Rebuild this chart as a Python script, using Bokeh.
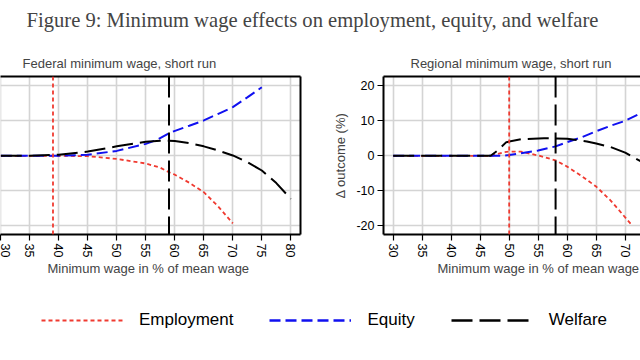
import math
from bokeh.plotting import figure
from bokeh.models import Span, Title, LinearAxis, FixedTicker, Legend, LegendItem, Range1d
from bokeh.layouts import column, row
from bokeh.embed import file_html
from bokeh.resources import INLINE

# ---------------- data ----------------
x_ticks = [30, 35, 40, 45, 50, 55, 60, 65, 70, 75, 80]
y_ticks = [-20, -10, 0, 10, 20]
y_tick_labels = ["-20", "-10", "0", "10", "20"]

# Federal minimum wage, short run
fed_emp_x = [30, 35, 40, 45, 50, 55, 57.5, 59, 60, 62.5, 65, 67.5, 70]
fed_emp_y = [0, 0, 0, -0.1, -0.9, -2.2, -3.4, -4.7, -5.4, -7.7, -10.4, -14.5, -19.3]
fed_eq_x = [30, 35, 40, 45, 50, 55, 57, 59.3, 62.5, 65, 67.5, 70, 72.5, 75]
fed_eq_y = [0, 0, 0, 0.3, 1.4, 3.4, 4.6, 6.7, 8.6, 10.1, 12.0, 13.9, 16.7, 19.6]
fed_wel_x = [30, 35, 40, 45, 50, 55, 57.5, 59, 60, 62.5, 65, 67.5, 70, 72.5, 75, 77.5, 80]
fed_wel_y = [0, 0, 0.3, 1.2, 2.7, 4.0, 4.3, 4.3, 4.2, 3.6, 2.7, 1.5, 0.1, -1.8, -4.2, -7.8, -12.3]
fed_opt = [39, 59]  # employment-optimal, welfare-optimal

# Regional minimum wage, short run
reg_emp_x = [30, 35, 40, 45, 47, 48, 49, 50, 52, 55, 58, 60, 62.5, 65, 67.5, 70, 71]
reg_emp_y = [0, 0, 0, 0, 0, 0.5, 1.0, 1.2, 1.2, 0.1, -1.3, -3.1, -5.8, -8.8, -12.8, -17.6, -19.5]
reg_eq_x = [30, 35, 40, 45, 48.5, 50, 52, 55, 58, 60, 62.5, 65, 67.5, 70, 72.7]
reg_eq_y = [0, 0, 0, 0, 0, 0.2, 0.7, 1.5, 2.7, 3.9, 5.3, 7.0, 8.6, 10.0, 12.2]
reg_wel_x = [30, 35, 40, 45, 46.8, 48, 48.5, 49.5, 52, 56, 60, 63.4, 65, 67.5, 70, 72.7]
reg_wel_y = [0, 0, 0, 0, 0, 1.5, 2.3, 3.9, 4.7, 5.0, 4.9, 4.1, 3.5, 2.5, 0.9, -1.6]
reg_opt = [50, 58]

series_names = ["Employment", "Equity", "Welfare"]

# ---------------- style ----------------
SANS = "Liberation Sans"
SERIF = "Liberation Serif"
RED = "#f03a30"
BLUE = "#1010f0"
BLACK = "#000000"
GRID = "#d4d4d4"
DASH = {"Employment": "4 3", "Equity": "11 5", "Welfare": "21 7"}
COLOR = {"Employment": RED, "Equity": BLUE, "Welfare": BLACK}
WIDTH = {"Employment": 1.8, "Equity": 2, "Welfare": 2}


def border_axis():
    return LinearAxis(ticker=FixedTicker(ticks=[]), axis_line_width=2, axis_line_color="black",
                      major_tick_out=0, major_tick_in=0, minor_tick_out=0, minor_tick_in=0,
                      major_label_text_font_size="0px", major_label_standoff=0)


def make_panel(title, title_off, xlabel_off, width, mb_left, mb_right, xs, xe, data, opt, yaxis):
    p = figure(width=width, height=250, x_range=Range1d(xs, xe), y_range=Range1d(-22.49, 22.66),
               output_backend="svg", toolbar_location=None,
               x_axis_location=None, y_axis_location=None,
               min_border_left=mb_left, min_border_right=mb_right,
               min_border_top=36, min_border_bottom=56,
               outline_line_color=None)
    p.title.text = title
    p.title.align = "left"
    p.title.offset = title_off
    p.title.text_font = SANS
    p.title.text_font_size = "13px"
    p.title.text_font_style = "normal"
    p.title.standoff = 11

    p.xgrid.ticker = FixedTicker(ticks=x_ticks)
    p.ygrid.ticker = FixedTicker(ticks=y_ticks)
    p.grid.grid_line_color = GRID
    p.grid.grid_line_width = 1.6

    xa = LinearAxis(ticker=FixedTicker(ticks=x_ticks), major_label_orientation=-math.pi / 2,
                    major_tick_out=6, major_tick_in=0, minor_tick_out=0, minor_tick_in=0,
                    axis_line_width=2, major_tick_line_width=1.2, major_label_standoff=3,
                    major_label_text_font=SANS, major_label_text_font_size="12.5px",
                    major_label_text_color="black")
    p.add_layout(xa, "below")
    p.add_layout(Title(text="Minimum wage in % of mean wage", align="left", offset=xlabel_off,
                       vertical_align="top", text_font=SANS, text_font_size="13px",
                       text_font_style="normal", standoff=0), "below")
    p.add_layout(border_axis(), "above")
    if yaxis:
        ya = LinearAxis(ticker=FixedTicker(ticks=y_ticks), axis_label="\u0394 outcome (%)",
                        major_label_overrides=dict(zip(y_ticks, y_tick_labels)),
                        axis_label_text_font=SANS, axis_label_text_font_size="13px",
                        axis_label_text_font_style="normal", axis_label_standoff=5,
                        major_tick_out=6, major_tick_in=0, minor_tick_out=0, minor_tick_in=0,
                        axis_line_width=2, major_tick_line_width=1.2, major_label_standoff=3,
                        major_label_text_font=SANS, major_label_text_font_size="12.5px",
                        major_label_text_color="black")
        p.add_layout(ya, "left")
    else:
        p.add_layout(border_axis(), "right")

    p.add_layout(Span(location=opt[0], dimension="height", line_color=RED,
                      line_dash=DASH["Employment"], line_width=1.8))
    p.add_layout(Span(location=opt[1], dimension="height", line_color=BLACK,
                      line_dash=DASH["Welfare"], line_width=2))

    for name, (xv, yv) in zip(series_names, data):
        p.line(xv, yv, line_color=COLOR[name], line_dash=DASH[name], line_width=WIDTH[name])
    return p


left = make_panel("Federal minimum wage, short run", 22, 47, 330, 0, 30, 29.95, 81.67,
                  [(fed_emp_x, fed_emp_y), (fed_eq_x, fed_eq_y), (fed_wel_x, fed_wel_y)],
                  fed_opt, False)
right = make_panel("Regional minimum wage, short run", 27, 54, 310, 53, 0, 28.33, 72.64,
                   [(reg_emp_x, reg_emp_y), (reg_eq_x, reg_eq_y), (reg_wel_x, reg_wel_y)],
                   reg_opt, True)

# title figure
tf = figure(width=640, height=40, output_backend="svg", toolbar_location=None,
            x_axis_location=None, y_axis_location=None, outline_line_color=None,
            min_border_left=0, min_border_right=0, min_border_top=0, min_border_bottom=0)
tf.grid.visible = False
tf.title.text = "Figure 9: Minimum wage effects on employment, equity, and welfare"
tf.title.align = "left"
tf.title.offset = 26
tf.title.text_font = SERIF
tf.title.text_font_size = "20.6px"
tf.title.text_font_style = "normal"
tf.title.standoff = 13

# legend figure (legend samples use the series lines, kept outside the visible range)
lg = figure(width=640, height=70, output_backend="svg", toolbar_location=None,
            x_axis_location=None, y_axis_location=None, outline_line_color=None,
            min_border_left=0, min_border_right=0, min_border_top=0, min_border_bottom=0,
            x_range=Range1d(0, 1), y_range=Range1d(100, 101))
lg.grid.visible = False
items = []
for name, (xv, yv) in zip(series_names, [(fed_emp_x, fed_emp_y), (fed_eq_x, fed_eq_y), (fed_wel_x, fed_wel_y)]):
    r = lg.line(xv, yv, line_color=COLOR[name], line_dash=DASH[name], line_width=WIDTH[name] + 0.4)
    items.append(LegendItem(label=name, renderers=[r]))
legend = Legend(items=items, orientation="horizontal", location=(41, 30),
                glyph_width=82, glyph_height=20, label_standoff=16, spacing=36,
                padding=0, margin=0, border_line_color=None, background_fill_alpha=0,
                label_text_font=SANS, label_text_font_size="17px", label_text_color="black")
lg.add_layout(legend, "center")

layout = column(tf, row(left, right), lg)
open("out.html", "w").write(file_html(layout, INLINE))
